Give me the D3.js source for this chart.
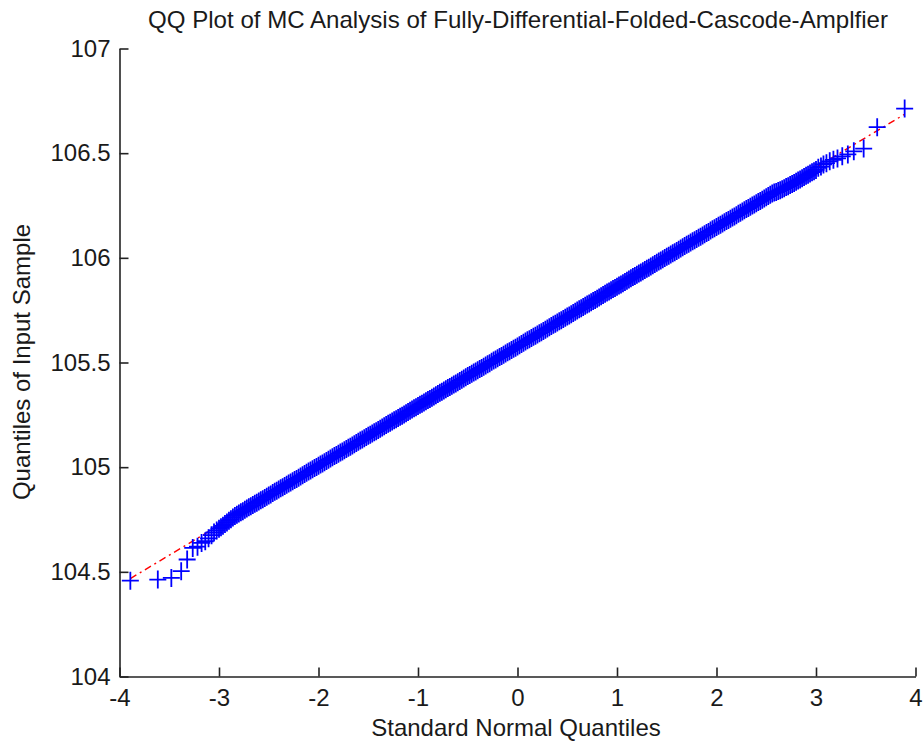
<!DOCTYPE html>
<html>
<head>
<meta charset="utf-8">
<script src="https://cdn.jsdelivr.net/npm/d3@7"></script>
<style>
  html, body { margin: 0; padding: 0; background: #ffffff; }
  svg { display: block; }
  text { font-family: Arial, "Liberation Sans", Helvetica, sans-serif; fill: #1a1a1a; }
</style>
</head>
<body>
<svg id="chart" width="924" height="742"></svg>
<script>
// Labels
const chartTitle = "QQ Plot of MC Analysis of Fully-Differential-Folded-Cascode-Amplfier";
const xAxisLabel = "Standard Normal Quantiles";
const yAxisLabel = "Quantiles of Input Sample";

// Axis ticks
const xTicks = [-4, -3, -2, -1, 0, 1, 2, 3, 4];
const yTicks = [104, 104.5, 105, 105.5, 106, 106.5, 107];
const yTickLabels = ["104", "104.5", "105", "105.5", "106", "106.5", "107"];

// Standard normal quantiles of the plotted points (lower tail, body, upper tail)
const normalQuantiles = [
  -3.891, -3.615, -3.479, -3.380, -3.320, -3.264, -3.216, -3.175, -3.138, -3.105, -3.075, -3.050, -3.023, -3.000,
  -2.98, -2.96, -2.94, -2.92, -2.90, -2.88, -2.86, -2.84, -2.82, -2.80,
  -2.78, -2.76, -2.74, -2.72, -2.70, -2.68, -2.66, -2.64, -2.62, -2.60,
  -2.58, -2.56, -2.54, -2.52, -2.50, -2.48, -2.46, -2.44, -2.42, -2.40,
  -2.38, -2.36, -2.34, -2.32, -2.30, -2.28, -2.26, -2.24, -2.22, -2.20,
  -2.18, -2.16, -2.14, -2.12, -2.10, -2.08, -2.06, -2.04, -2.02, -2.00,
  -1.98, -1.96, -1.94, -1.92, -1.90, -1.88, -1.86, -1.84, -1.82, -1.80,
  -1.78, -1.76, -1.74, -1.72, -1.70, -1.68, -1.66, -1.64, -1.62, -1.60,
  -1.58, -1.56, -1.54, -1.52, -1.50, -1.48, -1.46, -1.44, -1.42, -1.40,
  -1.38, -1.36, -1.34, -1.32, -1.30, -1.28, -1.26, -1.24, -1.22, -1.20,
  -1.18, -1.16, -1.14, -1.12, -1.10, -1.08, -1.06, -1.04, -1.02, -1.00,
  -0.98, -0.96, -0.94, -0.92, -0.90, -0.88, -0.86, -0.84, -0.82, -0.80,
  -0.78, -0.76, -0.74, -0.72, -0.70, -0.68, -0.66, -0.64, -0.62, -0.60,
  -0.58, -0.56, -0.54, -0.52, -0.50, -0.48, -0.46, -0.44, -0.42, -0.40,
  -0.38, -0.36, -0.34, -0.32, -0.30, -0.28, -0.26, -0.24, -0.22, -0.20,
  -0.18, -0.16, -0.14, -0.12, -0.10, -0.08, -0.06, -0.04, -0.02, 0.00,
  0.02, 0.04, 0.06, 0.08, 0.10, 0.12, 0.14, 0.16, 0.18, 0.20,
  0.22, 0.24, 0.26, 0.28, 0.30, 0.32, 0.34, 0.36, 0.38, 0.40,
  0.42, 0.44, 0.46, 0.48, 0.50, 0.52, 0.54, 0.56, 0.58, 0.60,
  0.62, 0.64, 0.66, 0.68, 0.70, 0.72, 0.74, 0.76, 0.78, 0.80,
  0.82, 0.84, 0.86, 0.88, 0.90, 0.92, 0.94, 0.96, 0.98, 1.00,
  1.02, 1.04, 1.06, 1.08, 1.10, 1.12, 1.14, 1.16, 1.18, 1.20,
  1.22, 1.24, 1.26, 1.28, 1.30, 1.32, 1.34, 1.36, 1.38, 1.40,
  1.42, 1.44, 1.46, 1.48, 1.50, 1.52, 1.54, 1.56, 1.58, 1.60,
  1.62, 1.64, 1.66, 1.68, 1.70, 1.72, 1.74, 1.76, 1.78, 1.80,
  1.82, 1.84, 1.86, 1.88, 1.90, 1.92, 1.94, 1.96, 1.98, 2.00,
  2.02, 2.04, 2.06, 2.08, 2.10, 2.12, 2.14, 2.16, 2.18, 2.20,
  2.22, 2.24, 2.26, 2.28, 2.30, 2.32, 2.34, 2.36, 2.38, 2.40,
  2.42, 2.44, 2.46, 2.48, 2.50, 2.52, 2.54, 2.56, 2.58, 2.60,
  2.62, 2.64, 2.66, 2.68, 2.70, 2.72, 2.74, 2.76, 2.78, 2.80,
  2.82, 2.84, 2.86, 2.88, 2.90, 2.92, 2.94, 2.96, 2.98,
  3.000, 3.023, 3.050, 3.075, 3.105, 3.138, 3.175, 3.216, 3.264, 3.320, 3.380, 3.479, 3.615, 3.891
];

// Sorted sample values matching the quantiles above
const sampleQuantiles = [
  104.458, 104.463, 104.471, 104.503, 104.559, 104.614, 104.620, 104.638, 104.646, 104.660, 104.675, 104.688, 104.698, 104.706,
  104.713, 104.720, 104.728, 104.736, 104.744, 104.751, 104.759, 104.767, 104.773, 104.779,
  104.785, 104.790, 104.796, 104.802, 104.808, 104.813, 104.819, 104.825, 104.830, 104.836,
  104.842, 104.847, 104.853, 104.859, 104.865, 104.870, 104.876, 104.882, 104.887, 104.893,
  104.899, 104.904, 104.910, 104.916, 104.922, 104.927, 104.933, 104.939, 104.944, 104.950,
  104.956, 104.961, 104.967, 104.973, 104.979, 104.984, 104.990, 104.996, 105.001, 105.007,
  105.013, 105.018, 105.024, 105.030, 105.036, 105.041, 105.047, 105.053, 105.058, 105.064,
  105.070, 105.075, 105.081, 105.087, 105.093, 105.098, 105.104, 105.110, 105.115, 105.121,
  105.127, 105.132, 105.138, 105.144, 105.150, 105.155, 105.161, 105.167, 105.172, 105.178,
  105.184, 105.189, 105.195, 105.201, 105.207, 105.212, 105.218, 105.224, 105.229, 105.235,
  105.241, 105.246, 105.252, 105.258, 105.264, 105.269, 105.275, 105.281, 105.286, 105.292,
  105.298, 105.303, 105.309, 105.315, 105.321, 105.326, 105.332, 105.338, 105.343, 105.349,
  105.355, 105.360, 105.366, 105.372, 105.378, 105.383, 105.389, 105.395, 105.400, 105.406,
  105.412, 105.417, 105.423, 105.429, 105.435, 105.440, 105.446, 105.452, 105.457, 105.463,
  105.469, 105.474, 105.480, 105.486, 105.492, 105.497, 105.503, 105.509, 105.514, 105.520,
  105.526, 105.531, 105.537, 105.543, 105.549, 105.554, 105.560, 105.566, 105.571, 105.577,
  105.583, 105.588, 105.594, 105.600, 105.606, 105.611, 105.617, 105.623, 105.628, 105.634,
  105.640, 105.645, 105.651, 105.657, 105.663, 105.668, 105.674, 105.680, 105.685, 105.691,
  105.697, 105.702, 105.708, 105.714, 105.720, 105.725, 105.731, 105.737, 105.742, 105.748,
  105.754, 105.759, 105.765, 105.771, 105.777, 105.782, 105.788, 105.794, 105.799, 105.805,
  105.811, 105.816, 105.822, 105.828, 105.834, 105.839, 105.845, 105.851, 105.856, 105.862,
  105.868, 105.873, 105.879, 105.885, 105.891, 105.896, 105.902, 105.908, 105.913, 105.919,
  105.925, 105.930, 105.936, 105.942, 105.948, 105.953, 105.959, 105.965, 105.970, 105.976,
  105.982, 105.987, 105.993, 105.999, 106.005, 106.010, 106.016, 106.022, 106.027, 106.033,
  106.039, 106.044, 106.050, 106.056, 106.062, 106.067, 106.073, 106.079, 106.084, 106.090,
  106.096, 106.101, 106.107, 106.113, 106.119, 106.124, 106.130, 106.136, 106.141, 106.147,
  106.153, 106.158, 106.164, 106.170, 106.176, 106.181, 106.187, 106.193, 106.198, 106.204,
  106.210, 106.215, 106.221, 106.227, 106.233, 106.238, 106.244, 106.250, 106.255, 106.261,
  106.267, 106.272, 106.278, 106.284, 106.290, 106.295, 106.301, 106.307, 106.312, 106.314,
  106.319, 106.323, 106.328, 106.333, 106.338, 106.342, 106.348, 106.353, 106.358, 106.363,
  106.369, 106.374, 106.380, 106.386, 106.392, 106.397, 106.403, 106.409, 106.414,
  106.420, 106.430, 106.436, 106.446, 106.452, 106.461, 106.468, 106.475, 106.485, 106.494, 106.509, 106.522, 106.624, 106.713
];

// Reference line through the quartiles, spanning the data range
const refLineQuantiles = [-3.891, 3.891];
const refLineValues = [104.468, 106.686];

const svg = d3.select("#chart");

const x = d3.scaleLinear().domain([-4, 4]).range([119.5, 915.5]);
const y = d3.scaleLinear().domain([104, 107]).range([676.5, 48.5]);

// Reference line (dash-dot, red)
const refData = refLineQuantiles.map((q, i) => [q, refLineValues[i]]);
svg.append("path")
  .datum(refData)
  .attr("fill", "none")
  .attr("stroke", "#ff0000")
  .attr("stroke-width", 1.4)
  .attr("stroke-dasharray", "7,4,2,4")
  .attr("d", d3.line().x(d => x(d[0])).y(d => y(d[1])));

// Sample points as plus markers
const points = normalQuantiles.map((q, i) => [q, sampleQuantiles[i]]);
svg.append("g")
  .selectAll("path")
  .data(points)
  .join("path")
  .attr("transform", d => `translate(${x(d[0])},${y(d[1])})`)
  .attr("d", "M-8.5,0H8.5M0,-9V9")
  .attr("fill", "none")
  .attr("stroke", "#0000ff")
  .attr("stroke-width", 1.8);

// Axes (left and bottom only, ticks pointing inward)
const axisColor = "#222222";
const xAxis = d3.axisBottom(x)
  .tickValues(xTicks)
  .tickFormat(d => (d < 0 ? "-" + Math.abs(d) : String(d)))
  .tickSizeInner(-9)
  .tickSizeOuter(0)
  .tickPadding(12);

const yAxis = d3.axisLeft(y)
  .tickValues(yTicks)
  .tickFormat((d, i) => yTickLabels[i])
  .tickSizeInner(-9)
  .tickSizeOuter(0)
  .tickPadding(9);

const gx = svg.append("g")
  .attr("transform", `translate(0,${y(104)})`)
  .call(xAxis);
const gy = svg.append("g")
  .attr("transform", `translate(${x(-4)},0)`)
  .call(yAxis);

[gx, gy].forEach(g => {
  g.select(".domain").attr("stroke", axisColor).attr("stroke-width", 1.6);
  g.selectAll(".tick line").attr("stroke", axisColor).attr("stroke-width", 1.6);
  g.selectAll(".tick text")
    .attr("fill", "#1a1a1a")
    .style("font-size", "24px")
    .style("font-family", "Arial, 'Liberation Sans', sans-serif");
});

// Title
svg.append("text")
  .attr("x", 518)
  .attr("y", 28)
  .attr("text-anchor", "middle")
  .attr("textLength", 740)
  .attr("lengthAdjust", "spacingAndGlyphs")
  .style("font-size", "24px")
  .text(chartTitle);

// X axis label
svg.append("text")
  .attr("x", 516)
  .attr("y", 736)
  .attr("text-anchor", "middle")
  .style("font-size", "24px")
  .text(xAxisLabel);

// Y axis label
svg.append("text")
  .attr("transform", "translate(30,362) rotate(-90)")
  .attr("text-anchor", "middle")
  .style("font-size", "24px")
  .text(yAxisLabel);
</script>
</body>
</html>
